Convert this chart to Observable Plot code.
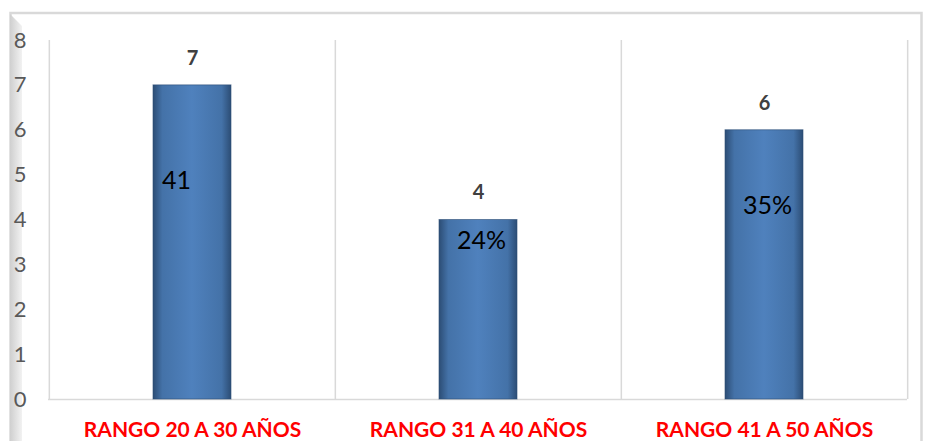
<!DOCTYPE html>
<html>
<head>
<meta charset="utf-8">
<script src="https://cdn.jsdelivr.net/npm/d3@7"></script>
<script src="https://cdn.jsdelivr.net/npm/@observablehq/plot@0.6"></script>
<style>
  html, body { margin: 0; padding: 0; background: #fff; }
  #chart { width: 925px; height: 441px; overflow: hidden; }
</style>
</head>
<body>
<div id="chart"></div>
<script>
const categories = ["RANGO 20 A 30 AÑOS", "RANGO 31 A 40 AÑOS", "RANGO 41 A 50 AÑOS"];
const values = [7, 4, 6];
const innerLabels = ["41", "24%", "35%"];
const innerLabelLevel = [4.88, 3.54, 4.32];
const innerLabelShift = [-16, 3, 3];
const yTicks = [0, 1, 2, 3, 4, 5, 6, 7, 8];

const data = categories.map((c, i) => ({
  cat: c, value: values[i], inner: innerLabels[i], level: innerLabelLevel[i], shift: innerLabelShift[i]
}));

const W = 925, H = 441, ML = 48, MR = 18, MT = 40, MB = 42;
const step = (W - ML - MR) / categories.length;
const font = "Lato, 'Open Sans', sans-serif";

const marks = [
  Plot.axisY({ticks: yTicks, tickSize: 0, tickPadding: 22, fontSize: 22, fill: "#595959", label: null, fontFamily: font}),
  Plot.axisX({tickSize: 0, tickPadding: 23, fontSize: 21, fill: "#ff0000", fontWeight: "bold", label: null, fontFamily: font}),
  Plot.ruleY([0], {stroke: "#d9d9d9", strokeWidth: 1.5}),
  Plot.ruleX(categories, {x: d => d, y1: 0, y2: 8, dx: -step / 2, stroke: "#d9d9d9", strokeWidth: 1.5}),
  Plot.ruleX(categories.slice(-1), {x: d => d, y1: 0, y2: 8, dx: step / 2, stroke: "#d9d9d9", strokeWidth: 1.5}),
  Plot.barY(data, {x: "cat", y: "value", fill: "url(#barGrad)", stroke: "#2c4d75", strokeWidth: 1, strokeOpacity: 0.6}),
  Plot.text(data, {x: "cat", y: "value", text: d => String(d.value), dy: -27, fill: "#404040", fontWeight: "bold", fontSize: 20, fontFamily: font})
];
data.forEach(d => {
  marks.push(Plot.text([d], {x: "cat", y: "level", text: "inner", dx: d.shift, fill: "#000", fontSize: 25, fontFamily: font}));
});

const plot = Plot.plot({
  width: W, height: H,
  marginLeft: ML, marginRight: MR, marginTop: MT, marginBottom: MB,
  style: {fontFamily: font, background: "transparent"},
  x: {domain: categories, paddingInner: 0.728, paddingOuter: 0.364},
  y: {domain: [0, 8]},
  marks
});

const svg = d3.select(plot);
const defs = svg.insert("defs", ":first-child");
const g = defs.append("linearGradient").attr("id", "barGrad").attr("x1", 0).attr("x2", 1).attr("y1", 0).attr("y2", 0);
g.append("stop").attr("offset", "0%").attr("stop-color", "#2c4d75");
g.append("stop").attr("offset", "12%").attr("stop-color", "#4472a8");
g.append("stop").attr("offset", "50%").attr("stop-color", "#4f81bd");
g.append("stop").attr("offset", "88%").attr("stop-color", "#4472a8");
g.append("stop").attr("offset", "100%").attr("stop-color", "#2c4d75");
const sg = defs.append("linearGradient").attr("id", "shadowGrad").attr("x1", 0).attr("x2", 1).attr("y1", 0).attr("y2", 0);
sg.append("stop").attr("offset", "0%").attr("stop-color", "#cfcfcf");
sg.append("stop").attr("offset", "100%").attr("stop-color", "#f2f2f2");

// chart frame decoration
svg.insert("path", "defs + *")
  .attr("d", "M10,14 L22,26 L22,441 L10,441 Z")
  .attr("fill", "url(#shadowGrad)");
svg.insert("rect", "defs + *")
  .attr("x", 10.5).attr("y", 13).attr("width", 911).attr("height", 440)
  .attr("fill", "none").attr("stroke", "#d9d9d9").attr("stroke-width", 2.5);

document.getElementById("chart").appendChild(plot);
</script>
</body>
</html>
